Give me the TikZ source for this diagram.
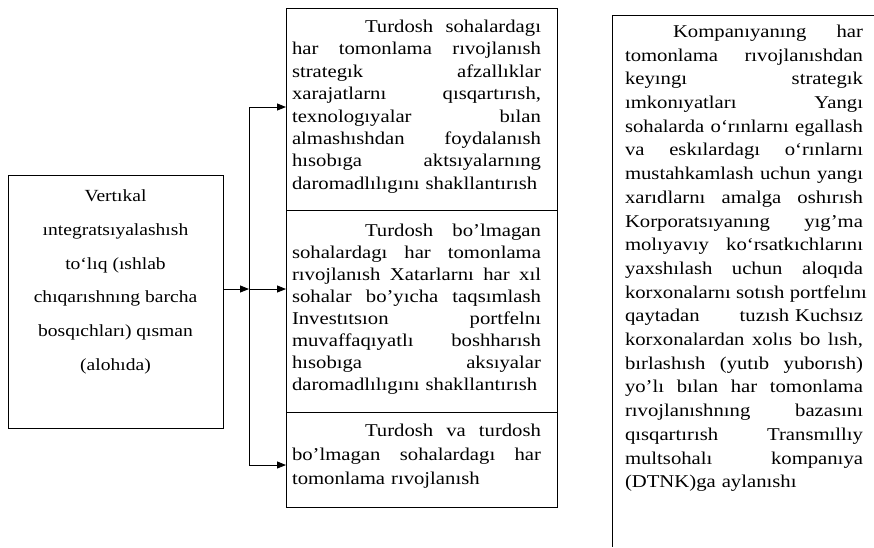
\documentclass[tikz,border=0pt]{standalone}
\usepackage{fontspec}
\setmainfont[FakeStretch=1.15]{Liberation Serif}
\usetikzlibrary{arrows.meta}
\newlength\midw \setlength\midw{249pt}
\newlength\rgtw \setlength\rgtw{238pt}
\newcommand\jline[2]{\leavevmode\hbox to #1{\spaceskip=0.3em plus 1fil\relax\xspaceskip=0.3em plus 1fil\relax #2}}
\newcommand\lline[2]{\leavevmode\hbox to #1{#2\hfil}}
\tikzset{
  box/.style={draw, line width=0.9pt, inner sep=0pt, outer sep=0pt},
  txt/.style={inner sep=0pt, outer sep=0pt, align=left, anchor=north west},
  arr/.style={line width=0.9pt, -{Triangle[length=9pt,width=7pt]}},
  conn/.style={line width=0.9pt}
}
\begin{document}
\begin{tikzpicture}[x=1pt,y=-1pt]
\useasboundingbox (0,0) rectangle (874,547);
% boxes
\node[box, minimum width=215pt, minimum height=253pt] (L) at (115.5,301.5) {};
\node[box, minimum width=271pt, minimum height=202pt] (M1) at (421.5,109) {};
\node[box, minimum width=271pt, minimum height=202pt] (M2) at (421.5,311) {};
\node[box, minimum width=271pt, minimum height=95pt] (M3) at (421.5,459.5) {};
% right partial frame
\coordinate (RTL) at (612,15);
\coordinate (RTR) at (874,15);
\coordinate (RBL) at (612,547);
\draw[conn] (RTR) -- (RTL) -- (RBL);
% texts
\node[inner sep=0pt, outer sep=0pt, align=center, anchor=north,
      font=\fontsize{17}{33.7}\selectfont] (Lt) at (115.5,190) {%
Vertıkal\\
ıntegratsıyalashısh\\
to‘lıq (ıshlab\\
chıqarıshnıng barcha\\
bosqıchları) qısman\\
(alohıda)};
\node[txt, text width=249pt, font=\fontsize{18}{22.4}\selectfont] (M1t) at (292,20) {%
\jline\midw{\hspace*{73pt}Turdosh sohalardagı}\\
\jline\midw{har tomonlama rıvojlanısh}\\
\jline\midw{strategık afzallıklar}\\
\jline\midw{xarajatlarnı qısqartırısh,}\\
\jline\midw{texnologıyalar bılan}\\
\jline\midw{almashıshdan foydalanısh}\\
\jline\midw{hısobıga aktsıyalarnıng}\\
\lline\midw{daromadlılıgını shakllantırısh}};
\node[txt, text width=249pt, font=\fontsize{18}{22}\selectfont] (M2t) at (292,224) {%
\jline\midw{\hspace*{73pt}Turdosh bo’lmagan}\\
\jline\midw{sohalardagı har tomonlama}\\
\jline\midw{rıvojlanısh Xatarlarnı har xıl}\\
\jline\midw{sohalar bo’yıcha taqsımlash}\\
\jline\midw{Investıtsıon portfelnı}\\
\jline\midw{muvaffaqıyatlı boshharısh}\\
\jline\midw{hısobıga aksıyalar}\\
\lline\midw{daromadlılıgını shakllantırısh}};
\node[txt, text width=249pt, font=\fontsize{18}{24}\selectfont] (M3t) at (292,424) {%
\jline\midw{\hspace*{73pt}Turdosh va turdosh}\\
\jline\midw{bo’lmagan sohalardagı har}\\
\lline\midw{tomonlama rıvojlanısh}};
\node[txt, text width=238pt, font=\fontsize{18}{23.7}\selectfont] (Rt) at (625,25) {%
\jline\rgtw{\hspace*{48pt}Kompanıyanıng har}\\
\jline\rgtw{tomonlama rıvojlanıshdan}\\
\jline\rgtw{keyıngı strategık}\\
\jline\rgtw{ımkonıyatları Yangı}\\
\jline\rgtw{sohalarda o‘rınlarnı egallash}\\
\jline\rgtw{va eskılardagı o‘rınlarnı}\\
\jline\rgtw{mustahkamlash uchun yangı}\\
\jline\rgtw{xarıdlarnı amalga oshırısh}\\
\jline\rgtw{Korporatsıyanıng yıg’ma}\\
\jline\rgtw{molıyavıy ko‘rsatkıchlarını}\\
\jline\rgtw{yaxshılash uchun aloqıda}\\
\jline\rgtw{korxonalarnı sotısh portfelını}\\
\lline\rgtw{qaytadan\hfill tuzısh Kuchsız}\\
\jline\rgtw{korxonalardan xolıs bo lısh,}\\
\jline\rgtw{bırlashısh (yutıb yuborısh)}\\
\jline\rgtw{yo’lı bılan har tomonlama}\\
\jline\rgtw{rıvojlanıshnıng bazasını}\\
\jline\rgtw{qısqartırısh Transmıllıy}\\
\jline\rgtw{multsohalı kompanıya}\\
\lline\rgtw{(DTNK)ga aylanıshı}};
% connectors
\coordinate (v1) at (249,107);
\coordinate (v2) at (249,289);
\coordinate (v3) at (249,465);
\draw[conn] (v1) -- (v3);
\draw[arr] (v1) -- (v1 -| M1.west);
\draw[arr] (v2) -- (v2 -| M2.west);
\draw[arr] (v3) -- (v3 -| M3.west);
\draw[arr] (v2 -| L.east) -- (v2);
\end{tikzpicture}
\end{document}
